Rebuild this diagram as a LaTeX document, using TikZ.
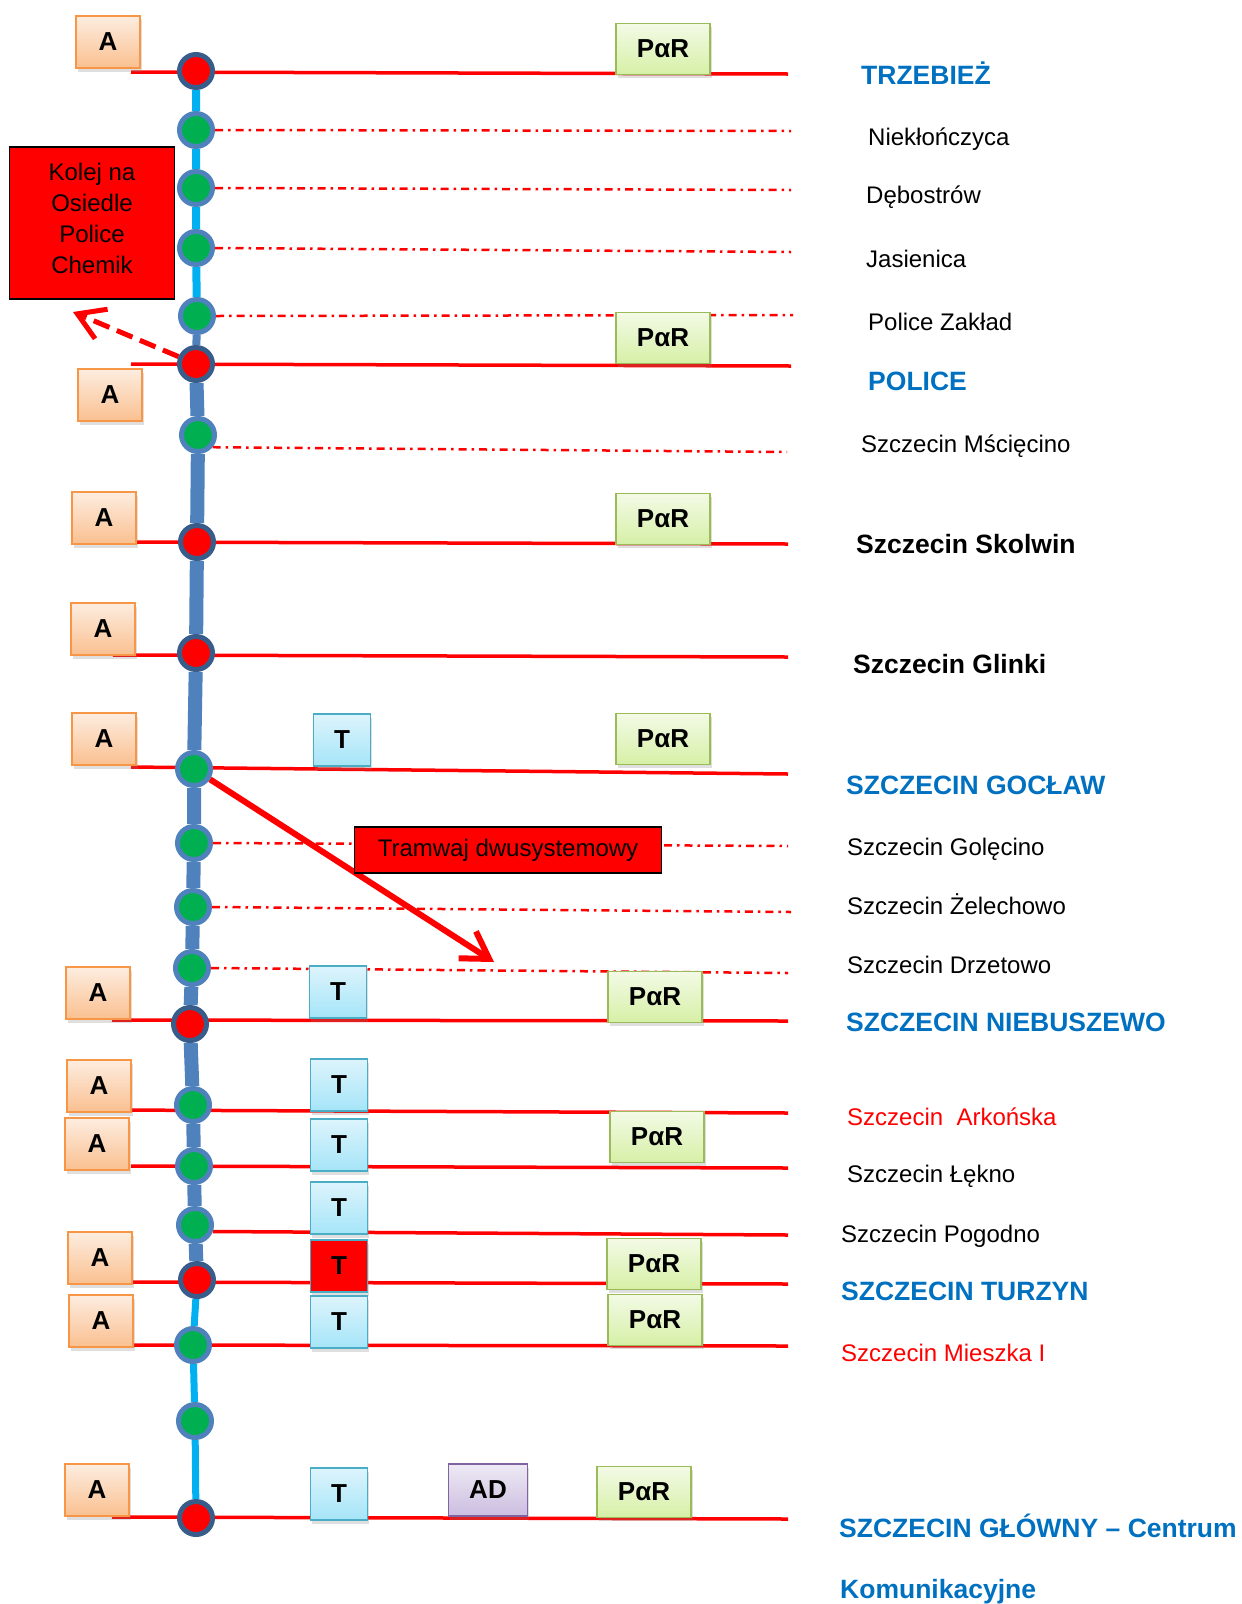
\documentclass[tikz,border=0pt]{standalone}
\usepackage{fontspec}
\setmainfont{Liberation Sans}
\usetikzlibrary{arrows.meta,shadows,backgrounds}

\definecolor{linkblue}{HTML}{00B0F0}
\definecolor{trunk}{HTML}{4F81BD}
\definecolor{rimdark}{HTML}{385D8A}
\definecolor{stgreen}{HTML}{00B050}
\definecolor{hubblue}{HTML}{0070C0}
\definecolor{aedge}{HTML}{F79646}
\definecolor{atop}{HTML}{FDEDE0}
\definecolor{abot}{HTML}{FAC090}
\definecolor{tedge}{HTML}{4BACC6}
\definecolor{ttop}{HTML}{DDF4FC}
\definecolor{tbot}{HTML}{A5E5F8}
\definecolor{pedge}{HTML}{9BBB59}
\definecolor{ptop}{HTML}{F3FAE6}
\definecolor{pbot}{HTML}{D6F0A6}
\definecolor{dedge}{HTML}{8064A2}
\definecolor{dtop}{HTML}{EEEAF4}
\definecolor{dbot}{HTML}{CBBDE0}

\begin{document}
\begin{tikzpicture}[x=1pt, y=-1pt,
    redst/.style = {circle, draw=rimdark, fill=red, line width=5pt, minimum size=33pt, inner sep=0pt},
    greenst/.style = {circle, draw=trunk, fill=stgreen, line width=5pt, minimum size=33pt, inner sep=0pt},
    box/.style = {draw, line width=1.5pt, inner sep=0pt, minimum height=52pt,
        font=\fontsize{26}{26}\selectfont\bfseries,
        drop shadow={opacity=0.25, shadow xshift=1.5pt, shadow yshift=-3.5pt}},
    abox/.style = {box, draw=aedge, top color=atop, bottom color=abot, minimum width=64pt},
    tbox/.style = {box, draw=tedge, top color=ttop, bottom color=tbot, minimum width=57pt},
    parbox/.style = {box, draw=pedge, top color=ptop, bottom color=pbot, minimum width=94pt, minimum height=51pt},
    adbox/.style = {box, draw=dedge, top color=dtop, bottom color=dbot, minimum width=79pt},
    note/.style = {draw=black, fill=red, line width=1.5pt, inner sep=0pt, align=center,
        font=\fontsize{24}{31}\selectfont},
    rail/.style = {draw=red, line width=3.5pt},
    halt/.style = {draw=red, line width=2.5pt, dash pattern=on 8pt off 5pt on 2.5pt off 5pt},
    link/.style = {draw=linkblue, line width=8pt},
    trunkline/.style = {draw=trunk, line width=14pt},
    town/.style = {anchor=west, inner sep=0pt, text height=22pt, text depth=3pt,
        font=\fontsize{24}{24}\selectfont},
    townbold/.style = {town, font=\fontsize{26.5}{26.5}\selectfont\bfseries},
    hub/.style = {townbold, text=hubblue}]

    \useasboundingbox (0,0) rectangle (1242,1604);

    % stations along the line
    \node[redst] (trz) at (196,71) {};
    \node[greenst] (niek) at (196,130) {};
    \node[greenst] (debo) at (196,188) {};
    \node[greenst] (jas) at (196,248) {};
    \node[greenst] (polz) at (197,316) {};
    \node[redst] (pol) at (196,364) {};
    \node[greenst] (msc) at (198,435) {};
    \node[redst] (sko) at (197,542) {};
    \node[redst] (gli) at (196,653) {};
    \node[greenst] (goc) at (194,769) {};
    \node[greenst] (gole) at (194,843) {};
    \node[greenst] (zel) at (193,907) {};
    \node[greenst] (drz) at (192,968) {};
    \node[redst] (nieb) at (190,1024) {};
    \node[greenst] (ark) at (193,1105) {};
    \node[greenst] (lek) at (194,1166) {};
    \node[greenst] (pog) at (195,1225) {};
    \node[redst] (tur) at (197,1280) {};
    \node[greenst] (mie) at (193,1345) {};
    \node[greenst] (mid) at (195,1421) {};
    \node[redst] (glo) at (196,1518) {};

    % ends of the cross lines
    \coordinate (trzL) at (131,72);   \coordinate (trzR) at (788,74);
    \coordinate (polL) at (131,364);  \coordinate (polR) at (791,366);
    \coordinate (skoL) at (113,542);  \coordinate (skoR) at (788,544);
    \coordinate (gliL) at (113,655);  \coordinate (gliR) at (788,657);
    \coordinate (gocL) at (131,767);  \coordinate (gocR) at (788,774);
    \coordinate (niebL) at (112,1020); \coordinate (niebR) at (788,1021);
    \coordinate (arkL) at (112,1110); \coordinate (arkR) at (788,1113);
    \coordinate (lekL) at (131,1166); \coordinate (lekR) at (788,1168);
    \coordinate (pogR) at (788,1235);
    \coordinate (turL) at (133,1282); \coordinate (turR) at (788,1284);
    \coordinate (mieL) at (133,1345); \coordinate (mieR) at (788,1346);
    \coordinate (gloL) at (112,1517); \coordinate (gloR) at (788,1519);
    \coordinate (niekR) at (791,131);
    \coordinate (deboR) at (791,190);
    \coordinate (jasR) at (791,252);
    \coordinate (polzR) at (793,315);
    \coordinate (mscR) at (787,452);
    \coordinate (goleR) at (788,846);
    \coordinate (zelR) at (791,912);
    \coordinate (drzR) at (788,973);
    \coordinate (kolejtip) at (73,312);
    \coordinate (tramtip) at (494,962);

    \begin{scope}[on background layer]
        \draw[link] (trz) -- (niek) -- (debo) -- (jas) -- (polz);
        \draw[trunk, line width=8pt] (polz) -- (pol);
        \draw[trunkline] (pol) -- (msc) -- (sko) -- (gli) -- (goc) -- (gole) -- (zel) -- (drz)
            -- (nieb) -- (ark) -- (lek) -- (pog) -- (tur);
        \draw[link, line width=7pt] (tur) -- (mie) -- (mid) -- (glo);

        \draw[rail] (trzL) -- (trzR);
        \draw[rail] (polL) -- (polR);
        \draw[rail] (skoL) -- (skoR);
        \draw[rail] (gliL) -- (gliR);
        \draw[rail] (gocL) -- (gocR);
        \draw[rail] (niebL) -- (niebR);
        \draw[rail] (arkL) -- (arkR);
        \draw[rail] (lekL) -- (lekR);
        \draw[rail] (pog.-20) -- (pogR);
        \draw[rail] (turL) -- (turR);
        \draw[rail] (mieL) -- (mieR);
        \draw[rail] (gloL) -- (gloR);

        \draw[halt] (niek.east) -- (niekR);
        \draw[halt] (debo.east) -- (deboR);
        \draw[halt] (jas.east) -- (jasR);
        \draw[halt] (polz.east) -- (polzR);
        \draw[halt] (msc.-40) -- (mscR);
        \draw[halt] (gole.east) -- (goleR);
        \draw[halt] (zel.east) -- (zelR);
        \draw[halt] (drz.east) -- (drzR);

        \draw[red, line width=5pt, dash pattern=on 17pt off 8pt,
            -{Straight Barb[length=26pt, width=32pt]}] (pol) -- (kolejtip);
        \draw[red, line width=6pt, -{Straight Barb[length=26pt, width=32pt]}] (goc) -- (tramtip);
    \end{scope}

    % bus, tram and park-and-ride boxes
    \node[abox] (a1) at (108,42) {A};
    \node[abox] (a2) at (110,395) {A};
    \node[abox] (a3) at (104,518) {A};
    \node[abox] (a4) at (103,629) {A};
    \node[abox] (a5) at (104,739) {A};
    \node[abox] (a6) at (98,993) {A};
    \node[abox] (a7) at (99,1086) {A};
    \node[abox] (a8) at (97,1144) {A};
    \node[abox] (a9) at (100,1258) {A};
    \node[abox] (a10) at (101,1321) {A};
    \node[abox] (a11) at (97,1490) {A};

    \node[tbox] (t1) at (342,740) {T};
    \node[tbox] (t2) at (338,992) {T};
    \node[tbox] (t3) at (339,1085) {T};
    \node[tbox] (t4) at (339,1145) {T};
    \node[tbox] (t5) at (339,1208) {T};
    \node[tbox, top color=red, bottom color=red] (t6) at (339,1266) {T};
    \node[tbox] (t7) at (339,1322) {T};
    \node[tbox] (t8) at (339,1494) {T};

    \node[adbox] (ad) at (488,1490) {AD};

    \node[parbox] (p1) at (663,49) {PαR};
    \node[parbox] (p2) at (663,338) {PαR};
    \node[parbox] (p3) at (663,519) {PαR};
    \node[parbox] (p4) at (663,739) {PαR};
    \node[parbox] (p5) at (655,997) {PαR};
    \node[parbox] (p6) at (657,1137) {PαR};
    \node[parbox] (p7) at (654,1264) {PαR};
    \node[parbox] (p8) at (655,1320) {PαR};
    \node[parbox] (p9) at (644,1492) {PαR};

    \node[note, minimum width=165pt, minimum height=152pt] (kolej) at (92,223)
        {Kolej na\\Osiedle\\Police\\Chemik\rule[-10pt]{0pt}{10pt}};
    \node[note, minimum width=307pt, minimum height=46pt] (tram) at (508,850)
        {Tramwaj dwusystemowy};

    % station names
    \node[hub] (ltrz) at (861,75) {TRZEBIEŻ};
    \node[town] (lniek) at (868,136) {Niekłończyca};
    \node[town] (ldebo) at (866,194) {Dębostrów};
    \node[town] (ljas) at (866,258) {Jasienica};
    \node[town] (lpolz) at (868,321) {Police Zakład};
    \node[hub] (lpol) at (868,381) {POLICE};
    \node[town] (lmsc) at (861,443) {Szczecin Mścięcino};
    \node[townbold] (lsko) at (856,544) {Szczecin Skolwin};
    \node[townbold] (lgli) at (853,664) {Szczecin Glinki};
    \node[hub] (lgoc) at (846,785) {SZCZECIN GOCŁAW};
    \node[town] (lgole) at (847,846) {Szczecin Golęcino};
    \node[town] (lzel) at (847,905) {Szczecin Żelechowo};
    \node[town] (ldrz) at (847,964) {Szczecin Drzetowo};
    \node[hub] (lnieb) at (846,1022) {SZCZECIN NIEBUSZEWO};
    \node[town, text=red] (lark) at (847,1116) {Szczecin\ \ Arkońska};
    \node[town] (llek) at (847,1173) {Szczecin Łękno};
    \node[town] (lpog) at (841,1233) {Szczecin Pogodno};
    \node[hub] (ltur) at (841,1291) {SZCZECIN TURZYN};
    \node[town, text=red] (lmie) at (841,1352) {Szczecin Mieszka I};
    \node[hub] (lglo) at (839,1528) {SZCZECIN GŁÓWNY – Centrum};
    \node[hub] (lglo2) at (840,1589) {Komunikacyjne};
\end{tikzpicture}
\end{document}
